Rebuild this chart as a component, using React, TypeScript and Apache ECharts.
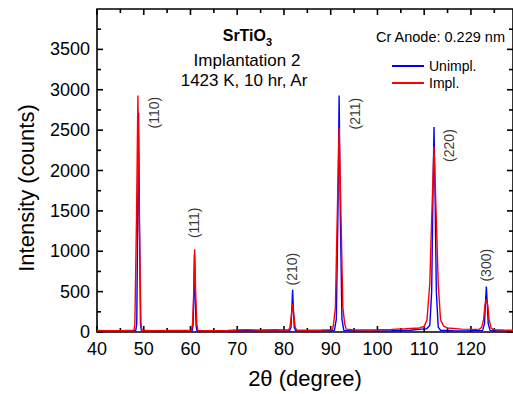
import React, { useEffect, useRef } from "react";
import * as echarts from "echarts";

// 2θ (degree), counts — Unimplanted sample
const unimplPoints: [number, number][] = [
  [40, 12], [43, 10], [46, 12], [48.3, 20], [48.5, 100], [48.7, 1300], [48.9, 2716], [49.1, 1300], [49.3, 100], [49.5, 18],
  [52, 10], [56, 12], [60.35, 15], [60.55, 80], [60.7, 450], [60.85, 960], [61.0, 450], [61.2, 80], [61.4, 15],
  [64, 10], [68, 12], [71, 18], [74, 15], [76, 22], [79, 14], [81.2, 15], [81.5, 60], [81.7, 300], [81.85, 522], [82.0, 300], [82.2, 60], [82.5, 15],
  [85, 12], [88, 14], [90.8, 20], [91.2, 160], [91.55, 1480], [91.8, 2930], [92.05, 1480], [92.4, 160], [92.8, 20],
  [95, 14], [99, 12], [103, 16], [107, 22], [109.5, 35], [110.5, 40], [111.2, 80], [111.6, 500], [111.85, 1600], [112.1, 2540], [112.35, 1600], [112.6, 500], [113.0, 60], [113.5, 22],
  [116, 16], [119, 14], [122.5, 20], [122.9, 100], [123.1, 350], [123.3, 564], [123.5, 350], [123.7, 100], [124.1, 20],
  [126, 14], [129, 12],
];

// 2θ (degree), counts — Implanted sample
const implPoints: [number, number][] = [
  [40, 18], [43, 16], [46, 18], [47.9, 22], [48.1, 100], [48.45, 1400], [48.75, 2930], [49.05, 1400], [49.4, 100], [49.6, 22],
  [52, 16], [56, 18], [60.2, 20], [60.45, 100], [60.7, 500], [60.9, 1025], [61.1, 500], [61.35, 100], [61.6, 20],
  [64, 16], [68, 18], [70, 25], [72, 30], [75, 22], [78, 28], [81.0, 25], [81.3, 60], [81.6, 220], [81.85, 346], [82.1, 220], [82.4, 60], [82.7, 25],
  [85, 22], [88, 24], [90.4, 30], [90.6, 100], [91.0, 300], [91.35, 1300], [91.8, 2527], [92.25, 1300], [92.6, 300], [93.0, 100], [93.3, 35],
  [95, 26], [99, 25], [103, 32], [106, 40], [109, 50], [110, 70], [110.6, 150], [111.2, 600], [111.6, 1400], [112.1, 2300], [112.6, 1400], [113.0, 600], [113.5, 150], [114.2, 70], [115, 50],
  [118, 35], [121, 32], [121.8, 35], [122.3, 60], [122.7, 150], [123.0, 330], [123.3, 407], [123.6, 330], [123.9, 150], [124.3, 50], [124.8, 30],
  [127, 24], [129, 22],
];

// Miller-index annotations: [2θ, counts, label]
const peakLabels: [number, number, string][] = [
  [52.3, 2716, "(110)"],
  [60.7, 1352, "(111)"],
  [81.8, 778, "(210)"],
  [95.2, 2704, "(211)"],
  [115.4, 2309, "(220)"],
  [123.3, 827, "(300)"],
];

// axis ranges and tick values
const xRange = [40, 129];
const yRange = [0, 4000];
const xMajorTicks = [40, 50, 60, 70, 80, 90, 100, 110, 120];
const xMinorTicks = [45, 55, 65, 75, 85, 95, 105, 115, 125];
const yMajorTicks = [0, 500, 1000, 1500, 2000, 2500, 3000, 3500];
const yMinorTicks = [250, 750, 1250, 1750, 2250, 2750, 3250, 3750];

const FONT = '"Liberation Sans", Arial, Helvetica, sans-serif';
const BLACK = "#000";
const MAJOR_LEN = 6;
const MINOR_LEN = 4;
const TICK_W = 1.6;

// inward tick marks (filled bars), placed through the axes' own scales
function tickSeries(values: number[], dir: "bottom" | "top" | "left" | "right", len: number) {
  const data = values.map((v) => {
    if (dir === "bottom") return [v, yRange[0]];
    if (dir === "top") return [v, yRange[1]];
    if (dir === "left") return [xRange[0], v];
    return [xRange[1], v];
  });
  return {
    type: "custom",
    encode: { x: 0, y: 1 },
    data,
    renderItem: (_params: any, api: any) => {
      const p = api.coord([api.value(0), api.value(1)]);
      let shape;
      if (dir === "bottom") shape = { x: p[0] - TICK_W / 2, y: p[1] - len, width: TICK_W, height: len };
      else if (dir === "top") shape = { x: p[0] - TICK_W / 2, y: p[1], width: TICK_W, height: len };
      else if (dir === "left") shape = { x: p[0], y: p[1] - TICK_W / 2, width: len, height: TICK_W };
      else shape = { x: p[0] - len, y: p[1] - TICK_W / 2, width: len, height: TICK_W };
      return { type: "rect", shape, style: { fill: BLACK } };
    },
  };
}

export default function App() {
  const ref = useRef<HTMLDivElement>(null);

  useEffect(() => {
    if (!ref.current) return;
    const chart = echarts.init(ref.current, undefined, { renderer: "svg" });

    chart.setOption({
      animation: false,
      backgroundColor: "#fff",
      grid: {
        left: 97,
        right: 0,
        top: 9,
        bottom: 61,
        containLabel: false,
        show: true,
        borderColor: BLACK,
        borderWidth: 1.6,
      },
      legend: {
        data: ["Unimpl.", "Impl."],
        orient: "vertical",
        left: 392,
        top: 59,
        padding: 0,
        itemGap: 3,
        itemWidth: 32,
        itemHeight: 2,
        icon: "rect",
        textStyle: { fontFamily: FONT, fontSize: 14, color: BLACK, lineHeight: 14 },
        selectedMode: false,
      },
      xAxis: {
        type: "value",
        min: xRange[0],
        max: xRange[1],
        interval: 10,
        splitLine: { show: false },
        axisLine: { show: false },
        axisTick: { show: false },
        axisLabel: {
          show: true,
          margin: 8,
          fontFamily: FONT,
          fontSize: 18,
          color: BLACK,
          showMaxLabel: false,
          formatter: (v: number) => (xMajorTicks.includes(v) ? String(v) : ""),
        },
        name: "2θ (degree)",
        nameLocation: "middle",
        nameGap: 35,
        nameTextStyle: { fontFamily: FONT, fontSize: 22, color: BLACK },
      },
      yAxis: {
        type: "value",
        min: yRange[0],
        max: yRange[1],
        interval: 500,
        splitLine: { show: false },
        axisLine: { show: false },
        axisTick: { show: false },
        axisLabel: {
          show: true,
          margin: 7,
          fontFamily: FONT,
          fontSize: 18,
          color: BLACK,
          showMaxLabel: false,
          formatter: (v: number) => (yMajorTicks.includes(v) ? String(v) : ""),
        },
      },
      series: [
        tickSeries(xMajorTicks, "bottom", MAJOR_LEN),
        tickSeries(xMinorTicks, "bottom", MINOR_LEN),
        tickSeries(xMajorTicks, "top", MAJOR_LEN),
        tickSeries(xMinorTicks, "top", MINOR_LEN),
        tickSeries(yMajorTicks, "left", MAJOR_LEN),
        tickSeries(yMinorTicks, "left", MINOR_LEN),
        tickSeries(yMajorTicks, "right", MAJOR_LEN),
        tickSeries(yMinorTicks, "right", MINOR_LEN),
        {
          name: "Unimpl.",
          type: "line",
          data: unimplPoints,
          symbol: "none",
          showSymbol: false,
          color: "#0000ff",
          lineStyle: { color: "#0000ff", width: 1.4 },
          silent: true,
        },
        {
          name: "Impl.",
          type: "line",
          data: implPoints,
          symbol: "none",
          showSymbol: false,
          color: "#ff0000",
          lineStyle: { color: "#ff0000", width: 1.4 },
          silent: true,
        },
        {
          name: "hkl",
          type: "scatter",
          data: peakLabels.map((p) => ({ value: [p[0], p[1]], name: p[2] })),
          symbolSize: 1,
          itemStyle: { color: "rgba(0,0,0,0)" },
          silent: true,
          label: {
            show: true,
            position: "inside",
            rotate: 90,
            formatter: (p: any) => p.name,
            fontFamily: FONT,
            fontSize: 14,
            color: BLACK,
          },
        },
      ],
      graphic: [
        {
          type: "text",
          x: 26,
          y: 188,
          rotation: Math.PI / 2,
          style: {
            text: "Intensity (counts)",
            fontFamily: FONT,
            fontSize: 22,
            fill: BLACK,
            align: "center",
            verticalAlign: "middle",
          },
        },
        {
          type: "text",
          x: 266,
          y: 35,
          style: {
            text: "SrTiO",
            fontFamily: FONT,
            fontSize: 16,
            fontWeight: "bold",
            fill: BLACK,
            align: "right",
            verticalAlign: "middle",
          },
        },
        {
          type: "text",
          x: 266,
          y: 42,
          style: {
            text: "3",
            fontFamily: FONT,
            fontSize: 11,
            fontWeight: "bold",
            fill: BLACK,
            align: "left",
            verticalAlign: "middle",
          },
        },
        {
          type: "text",
          x: 247,
          y: 60,
          style: { text: "Implantation 2", fontFamily: FONT, fontSize: 17, fill: BLACK, align: "center", verticalAlign: "middle" },
        },
        {
          type: "text",
          x: 244,
          y: 80,
          style: { text: "1423 K, 10 hr, Ar", fontFamily: FONT, fontSize: 17, fill: BLACK, align: "center", verticalAlign: "middle" },
        },
        {
          type: "text",
          x: 505,
          y: 37,
          style: { text: "Cr Anode: 0.229 nm", fontFamily: FONT, fontSize: 14.5, fill: BLACK, align: "right", verticalAlign: "middle" },
        },
      ],
    });

    return () => chart.dispose();
  }, []);

  return (
    <div
      ref={ref}
      style={{ position: "absolute", left: 0, top: 0, width: 513, height: 394, background: "#fff" }}
    />
  );
}
